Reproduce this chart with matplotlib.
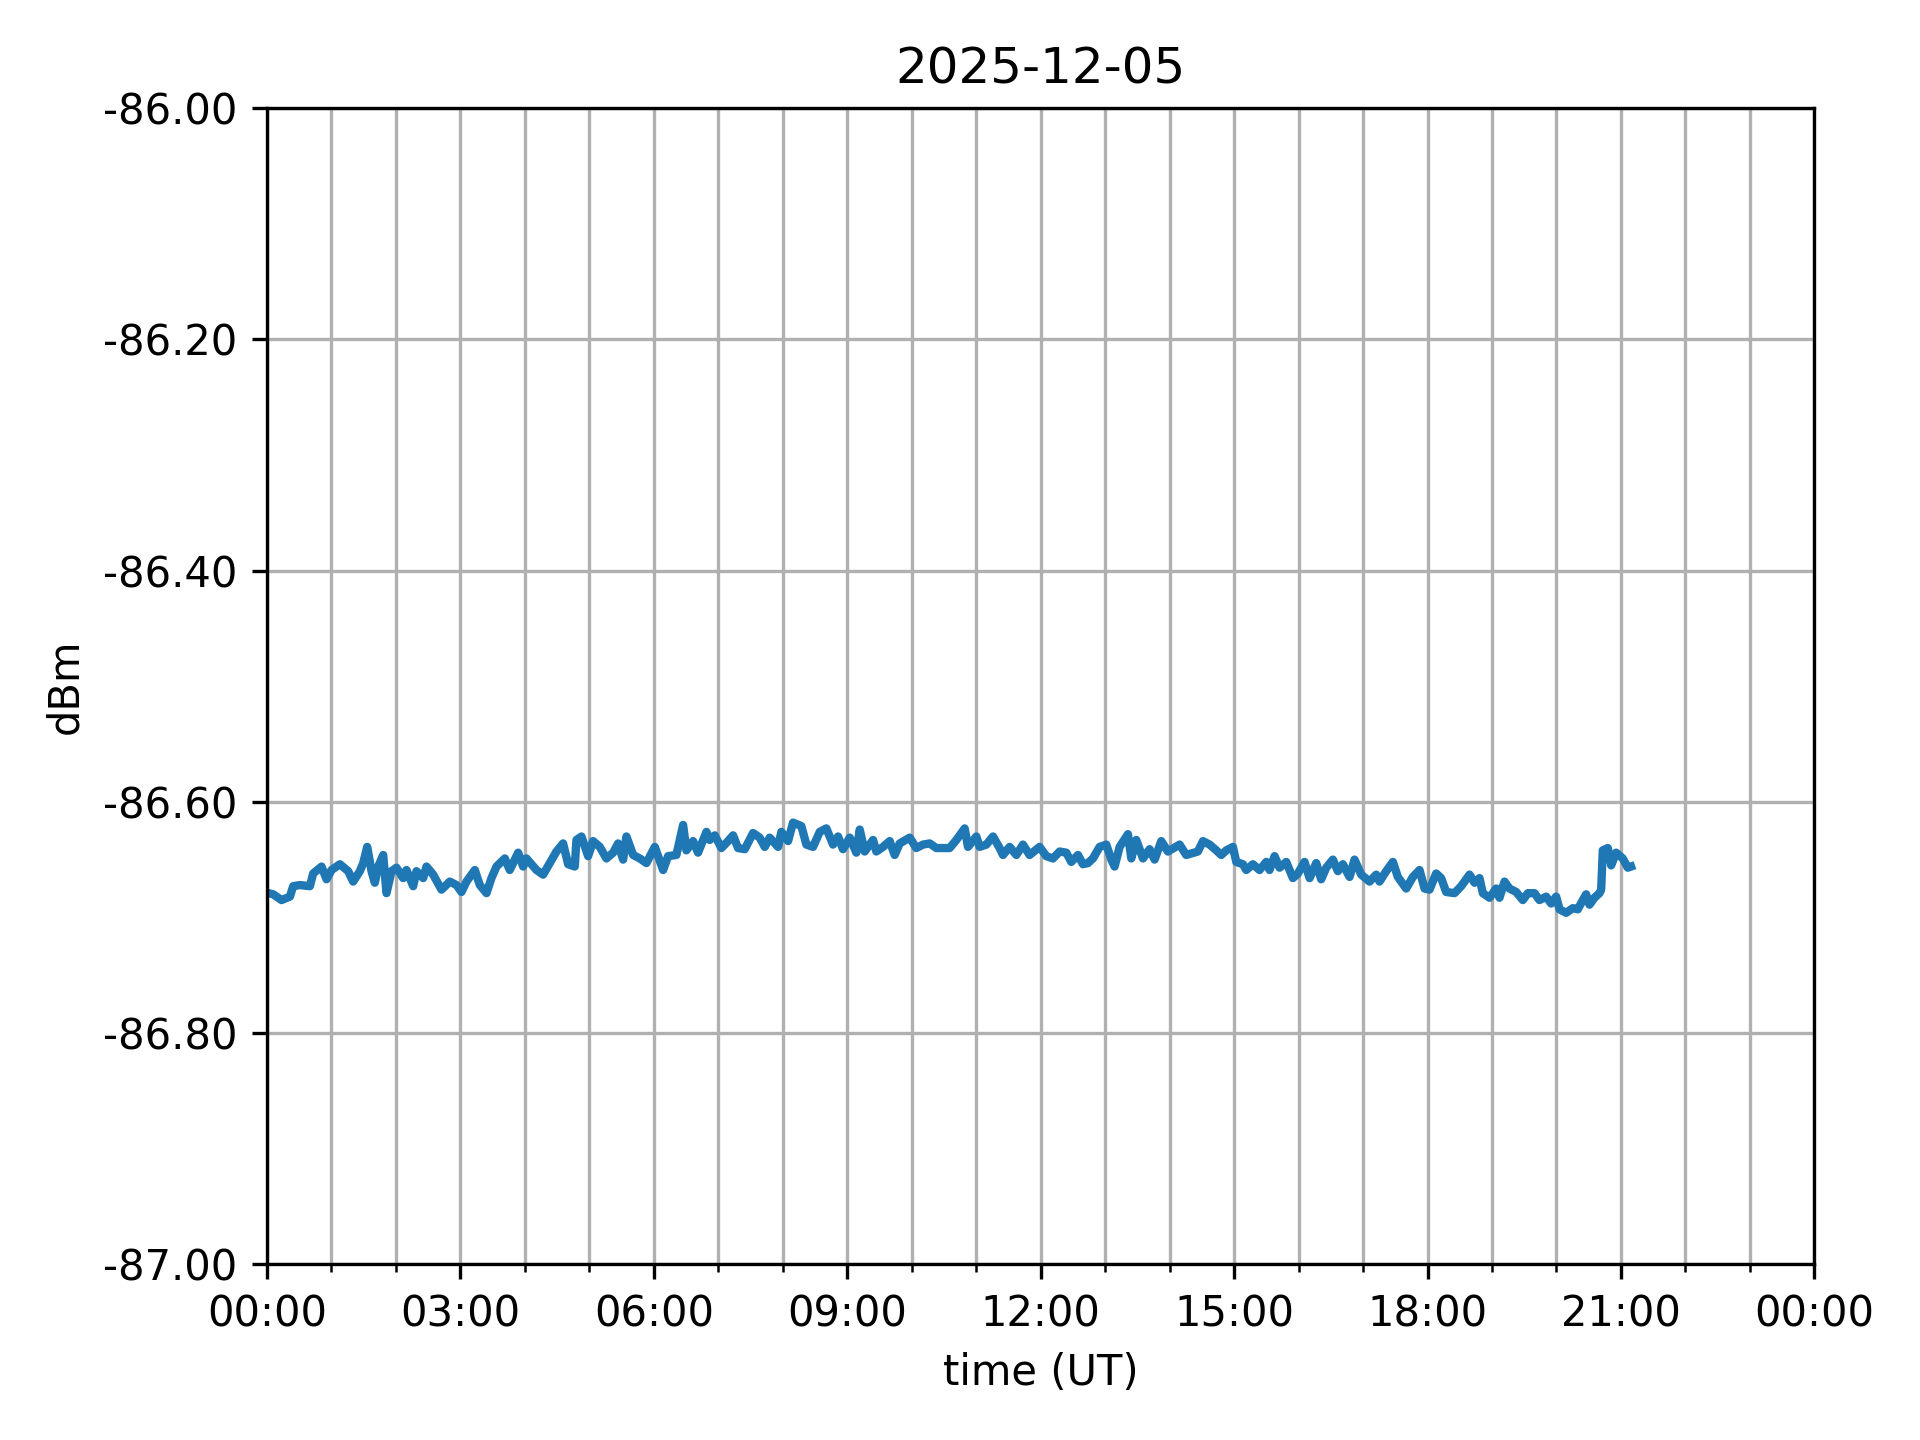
import numpy as np
import matplotlib
matplotlib.use("Agg")
import matplotlib.pyplot as plt
import matplotlib.dates as mdates
import matplotlib.ticker as mticker
from datetime import datetime, timedelta

hours = [
    0.021, 0.098, 0.227, 0.357, 0.408, 0.512, 0.667, 0.718, 0.848, 0.925,
    1.003, 1.132, 1.261, 1.338, 1.442, 1.494, 1.556, 1.623, 1.674, 1.726,
    1.804, 1.855, 1.933, 2.010, 2.114, 2.165, 2.269, 2.320, 2.424, 2.475,
    2.579, 2.708, 2.837, 2.941, 3.018, 3.096, 3.225, 3.302, 3.406, 3.483,
    3.561, 3.690, 3.767, 3.897, 3.974, 4.026, 4.181, 4.284, 4.388, 4.491,
    4.594, 4.672, 4.775, 4.801, 4.879, 4.982, 5.059, 5.163, 5.266, 5.370,
    5.447, 5.525, 5.576, 5.680, 5.783, 5.886, 6.016, 6.067, 6.145, 6.222,
    6.351, 6.455, 6.506, 6.610, 6.687, 6.817, 6.868, 6.946, 7.049, 7.152,
    7.230, 7.307, 7.411, 7.540, 7.643, 7.721, 7.798, 7.928, 7.979, 8.083,
    8.160, 8.289, 8.367, 8.470, 8.574, 8.677, 8.780, 8.858, 8.935, 9.039,
    9.142, 9.194, 9.271, 9.401, 9.452, 9.556, 9.659, 9.736, 9.814, 9.969,
    10.072, 10.176, 10.279, 10.382, 10.589, 10.693, 10.822, 10.873, 11.003, 11.054,
    11.158, 11.261, 11.364, 11.416, 11.519, 11.623, 11.726, 11.829, 11.984, 12.088,
    12.191, 12.295, 12.398, 12.475, 12.579, 12.656, 12.734, 12.811, 12.915, 13.018,
    13.096, 13.147, 13.225, 13.354, 13.406, 13.483, 13.587, 13.690, 13.767, 13.871,
    13.974, 14.155, 14.258, 14.439, 14.517, 14.620, 14.724, 14.801, 14.879, 14.982,
    15.034, 15.137, 15.189, 15.292, 15.395, 15.499, 15.550, 15.628, 15.705, 15.809,
    15.912, 15.990, 16.093, 16.171, 16.274, 16.351, 16.429, 16.532, 16.610, 16.687,
    16.791, 16.868, 16.972, 17.101, 17.204, 17.256, 17.359, 17.463, 17.540, 17.669,
    17.773, 17.876, 17.954, 18.031, 18.134, 18.212, 18.289, 18.419, 18.522, 18.651,
    18.729, 18.806, 18.858, 18.961, 19.065, 19.116, 19.194, 19.271, 19.375, 19.478,
    19.556, 19.659, 19.736, 19.840, 19.917, 19.995, 20.047, 20.150, 20.253, 20.331,
    20.408, 20.460, 20.512, 20.589, 20.667, 20.693, 20.718, 20.796, 20.848, 20.925,
    21.028, 21.106, 21.157,
]
dbm = [
    -86.679, -86.680, -86.685, -86.682, -86.673, -86.672, -86.673, -86.662, -86.656, -86.667,
    -86.659, -86.654, -86.660, -86.669, -86.660, -86.653, -86.639, -86.660, -86.670, -86.656,
    -86.646, -86.679, -86.660, -86.657, -86.666, -86.659, -86.673, -86.660, -86.666, -86.656,
    -86.663, -86.676, -86.669, -86.672, -86.678, -86.669, -86.659, -86.672, -86.679, -86.666,
    -86.656, -86.649, -86.659, -86.644, -86.656, -86.649, -86.659, -86.663, -86.653, -86.643,
    -86.636, -86.654, -86.656, -86.633, -86.630, -86.647, -86.634, -86.639, -86.649, -86.644,
    -86.636, -86.650, -86.630, -86.646, -86.649, -86.653, -86.639, -86.647, -86.659, -86.647,
    -86.646, -86.620, -86.642, -86.634, -86.644, -86.626, -86.633, -86.629, -86.640, -86.634,
    -86.629, -86.640, -86.641, -86.627, -86.631, -86.639, -86.631, -86.639, -86.626, -86.634,
    -86.618, -86.621, -86.637, -86.639, -86.626, -86.623, -86.637, -86.630, -86.641, -86.631,
    -86.644, -86.624, -86.643, -86.633, -86.643, -86.639, -86.634, -86.646, -86.636, -86.631,
    -86.640, -86.637, -86.636, -86.640, -86.640, -86.633, -86.623, -86.639, -86.630, -86.639,
    -86.637, -86.630, -86.640, -86.646, -86.639, -86.646, -86.637, -86.646, -86.639, -86.647,
    -86.649, -86.643, -86.644, -86.652, -86.646, -86.654, -86.653, -86.649, -86.639, -86.637,
    -86.650, -86.656, -86.639, -86.628, -86.649, -86.633, -86.649, -86.641, -86.650, -86.634,
    -86.643, -86.637, -86.646, -86.643, -86.634, -86.637, -86.642, -86.646, -86.642, -86.639,
    -86.652, -86.654, -86.659, -86.654, -86.659, -86.652, -86.659, -86.647, -86.657, -86.652,
    -86.666, -86.662, -86.652, -86.666, -86.653, -86.667, -86.657, -86.650, -86.660, -86.654,
    -86.665, -86.650, -86.663, -86.669, -86.663, -86.669, -86.660, -86.652, -86.665, -86.675,
    -86.665, -86.659, -86.675, -86.676, -86.662, -86.666, -86.678, -86.679, -86.673, -86.663,
    -86.670, -86.666, -86.679, -86.683, -86.675, -86.683, -86.669, -86.675, -86.678, -86.685,
    -86.679, -86.679, -86.685, -86.682, -86.688, -86.682, -86.693, -86.696, -86.692, -86.693,
    -86.685, -86.680, -86.689, -86.683, -86.679, -86.676, -86.642, -86.640, -86.655, -86.644,
    -86.649, -86.657, -86.656,
]

day = datetime(2025, 12, 5)
times = [day + timedelta(hours=h) for h in hours]

fig, ax = plt.subplots(figsize=(6.4, 4.8))
fig.subplots_adjust(left=0.139, right=0.945, top=0.925, bottom=0.122)
ax.plot(times, dbm, linewidth=2.0)

ax.set_xlim(day, day + timedelta(days=1))
ax.set_ylim(-87, -86)
ax.xaxis.set_major_locator(mdates.HourLocator(byhour=range(0, 24, 3)))
ax.xaxis.set_minor_locator(mdates.HourLocator())
ax.xaxis.set_major_formatter(mdates.DateFormatter("%H:%M"))
ax.yaxis.set_major_locator(mticker.MultipleLocator(0.2))
ax.yaxis.set_major_formatter(mticker.FormatStrFormatter("%.2f"))
ax.grid(True, which="both")

ax.set_title("2025-12-05")
ax.set_xlabel("time (UT)")
ax.set_ylabel("dBm")

fig.savefig("out.png", dpi=300)
